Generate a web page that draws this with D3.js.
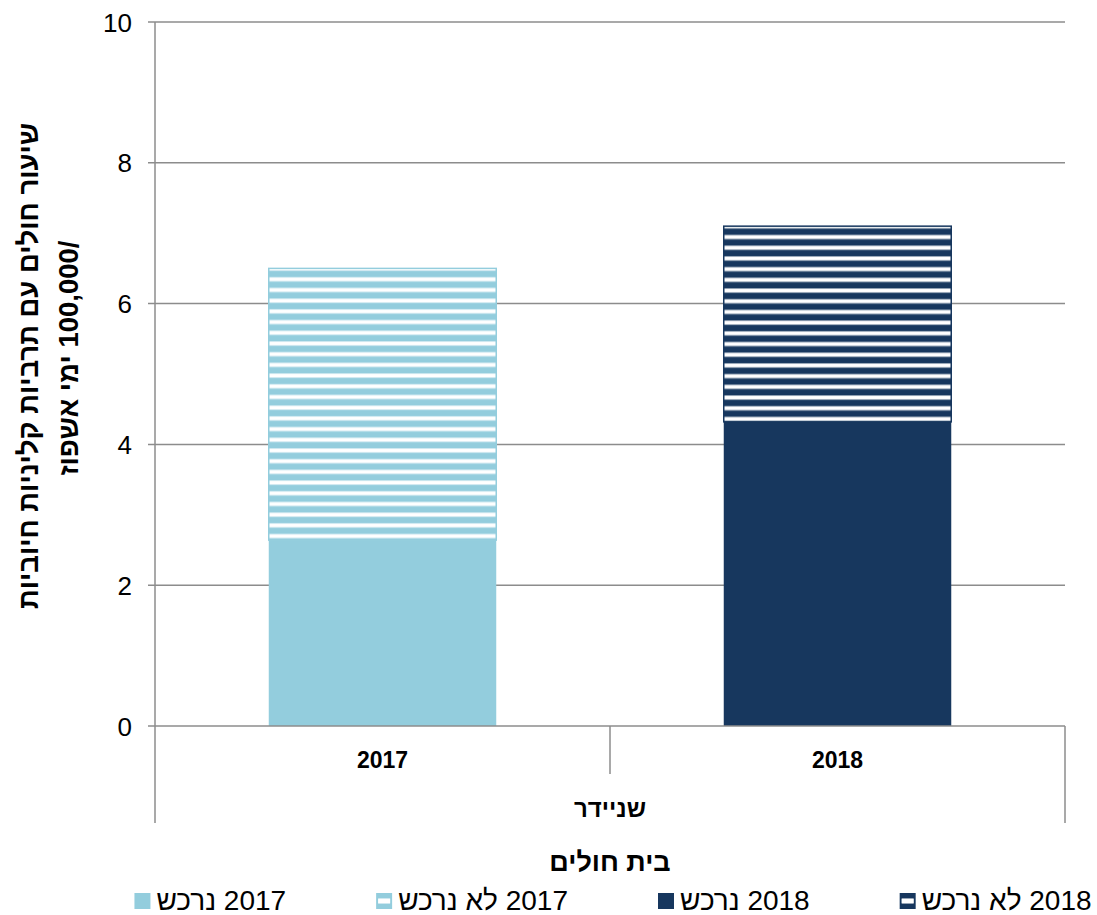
<!DOCTYPE html>
<html><head><meta charset="utf-8">
<script src="https://cdn.jsdelivr.net/npm/d3@7"></script>
<style>
body{margin:0;background:#fff}
text{font-family:"Liberation Sans",Arial,sans-serif;fill:#000}
</style>
</head><body>
<svg id="chart" width="1097" height="915"></svg>
<script>
// ---- data ----
const categories = ["2017", "2018"];
const hospital = "שניידר";
const seriesKeys = ["2017 נרכש", "2017 לא נרכש", "2018 נרכש", "2018 לא נרכש"];
const s2017Purchased    = [2.64, 0];
const s2017NotPurchased = [3.86, 0];
const s2018Purchased    = [0, 4.32];
const s2018NotPurchased = [0, 2.78];
const yTicks = [0, 2, 4, 6, 8, 10];
const yTitle1 = "שיעור חולים עם תרביות קליניות חיוביות";
const yTitle2 = "/100,000 ימי אשפוז";
const xTitle = "בית חולים";

// ---- styling ----
const seriesColor = ["#93cddd", "#93cddd", "#17375e", "#17375e"];
const seriesStriped = [false, true, false, true];
const gridColor = "#8c8c8c";
const RLI = "\u2067", PDI = "\u2069";

const rows = categories.map((c, i) => ({
  cat: c,
  [seriesKeys[0]]: s2017Purchased[i],
  [seriesKeys[1]]: s2017NotPurchased[i],
  [seriesKeys[2]]: s2018Purchased[i],
  [seriesKeys[3]]: s2018NotPurchased[i]
}));
const stacked = d3.stack().keys(seriesKeys)(rows);

const svg = d3.select("#chart");
const pL = 155, pR = 1065, pT = 22, pB = 726;

const y = d3.scaleLinear().domain([0, 10]).range([pB, pT]);
const x = d3.scaleBand().domain(categories).range([pL, pR]).padding(0);
const barW = x.bandwidth() * 0.5;

// patterns
const defs = svg.append("defs");
const period = 10.7;
stacked.forEach((s, si) => {
  if (!seriesStriped[si]) return;
  const idx = s.findIndex(d => d[1] - d[0] > 0);
  const barTop = y(s[idx][1]);
  const p = defs.append("pattern")
    .attr("id", "pat" + si)
    .attr("patternUnits", "userSpaceOnUse")
    .attr("x", 0).attr("y", barTop + 8.4)
    .attr("width", 2000).attr("height", period);
  p.append("rect").attr("width", 2000).attr("height", period).attr("fill", seriesColor[si]);
  p.append("rect").attr("y", 0).attr("width", 2000).attr("height", 5).attr("fill", "#fff").attr("opacity", 0.55);
  p.append("rect").attr("y", 1).attr("width", 2000).attr("height", 3).attr("fill", "#fff");
});

// gridlines
svg.append("g").selectAll("line").data(yTicks.filter(t => t > 0)).join("line")
  .attr("x1", pL - 7).attr("x2", pR)
  .attr("y1", d => y(d)).attr("y2", d => y(d))
  .attr("stroke", gridColor).attr("stroke-width", 1.5);

// bars
stacked.forEach((s, si) => {
  svg.append("g").selectAll("rect").data(s.filter(d => d[1] - d[0] > 0)).join("rect")
    .attr("x", d => x(d.data.cat) + (x.bandwidth() - barW) / 2)
    .attr("width", barW)
    .attr("y", d => y(d[1]))
    .attr("height", d => y(d[0]) - y(d[1]))
    .attr("fill", seriesStriped[si] ? `url(#pat${si})` : seriesColor[si])
    .attr("stroke", seriesStriped[si] ? seriesColor[si] : "none")
    .attr("stroke-width", 1.5);
});

// axes lines
const ax = svg.append("g").attr("stroke", gridColor).attr("stroke-width", 1.5);
ax.append("line").attr("x1", pL).attr("x2", pL).attr("y1", pT).attr("y2", 823);
ax.append("line").attr("x1", pL - 7).attr("x2", pR).attr("y1", pB).attr("y2", pB);
ax.append("line").attr("x1", pR).attr("x2", pR).attr("y1", pB).attr("y2", 823);
ax.append("line").attr("x1", x(categories[1])).attr("x2", x(categories[1])).attr("y1", pB).attr("y2", 774);

// y tick labels
svg.append("g").selectAll("text").data(yTicks).join("text")
  .attr("x", 132).attr("y", d => y(d) + 9.5)
  .attr("text-anchor", "end").attr("font-size", 26)
  .text(d => d);

// category labels
svg.append("g").selectAll("text").data(categories).join("text")
  .attr("x", d => x(d) + x.bandwidth() / 2).attr("y", 768)
  .attr("text-anchor", "middle").attr("font-size", 23).attr("font-weight", "bold")
  .text(d => d);

svg.append("text").attr("x", (pL + pR) / 2).attr("y", 817)
  .attr("text-anchor", "middle").attr("font-size", 24).attr("font-weight", "bold")
  .text(hospital);

svg.append("text").attr("x", (pL + pR) / 2).attr("y", 871)
  .attr("text-anchor", "middle").attr("font-size", 27).attr("font-weight", "bold")
  .text(xTitle);

// y title
svg.append("text").attr("transform", `translate(38,366) rotate(-90)`)
  .attr("text-anchor", "middle").attr("font-size", 27.5).attr("font-weight", "bold")
  .text(RLI + yTitle1 + PDI);
svg.append("text").attr("transform", `translate(78,358) rotate(-90)`)
  .attr("text-anchor", "middle").attr("font-size", 27.5).attr("font-weight", "bold")
  .text(RLI + yTitle2 + PDI);

// legend
const legend = svg.append("g");
const sq = 16, gapIcon = 6, gapItem = 90, fs = 28;
const items = seriesKeys.map((k, i) => {
  const g = legend.append("g");
  g.append("rect").attr("x", 0).attr("y", -17).attr("width", sq).attr("height", sq)
    .attr("fill", seriesColor[i]);
  if (seriesStriped[i]) {
    g.append("rect").attr("x", 2).attr("y", -17 + 5).attr("width", sq - 4).attr("height", 6)
      .attr("fill", "#fff").attr("opacity", 0.55);
    g.append("rect").attr("x", 2).attr("y", -17 + 6).attr("width", sq - 4).attr("height", 4)
      .attr("fill", "#fff");
  }
  const t = g.append("text").attr("x", sq + gapIcon).attr("y", 0)
    .attr("font-size", fs).text(RLI + k + PDI);
  return {g, w: sq + gapIcon + t.node().getComputedTextLength()};
});
const total = d3.sum(items, d => d.w) + gapItem * (items.length - 1);
let cx = (pL + pR) / 2 + 3 - total / 2;
items.forEach(it => {
  it.g.attr("transform", `translate(${cx},910)`);
  cx += it.w + gapItem;
});
</script>
</body></html>
